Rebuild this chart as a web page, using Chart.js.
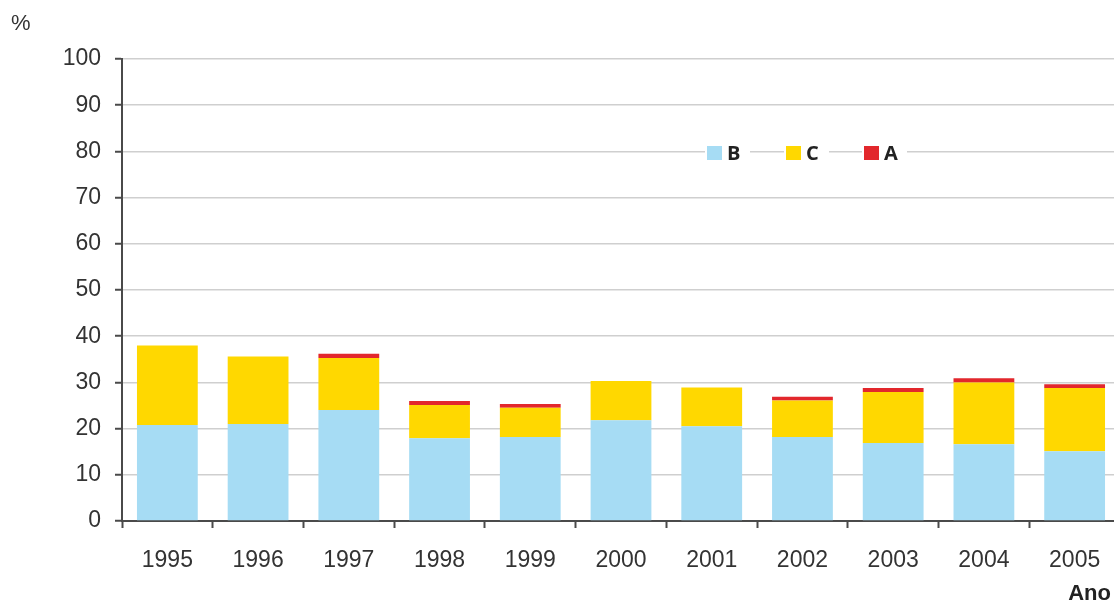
<!DOCTYPE html>
<html>
<head>
<meta charset="utf-8">
<script src="https://cdn.jsdelivr.net/npm/chart.js@4/dist/chart.umd.min.js"></script>
<style>
  html, body { margin: 0; padding: 0; background: #fff; overflow: hidden; }
  #wrap { width: 1122px; height: 603px; position: relative; }
</style>
</head>
<body>
<div id="wrap"><canvas id="myChart"></canvas></div>
<script>
const anos = ["1995", "1996", "1997", "1998", "1999", "2000", "2001", "2002", "2003", "2004", "2005"];
const valoresB = [20.8, 21.0, 24.0, 17.9, 18.2, 21.8, 20.5, 18.2, 16.9, 16.6, 15.1];
const valoresC = [17.2, 14.6, 11.3, 7.2, 6.3, 8.5, 8.4, 7.9, 11.0, 13.4, 13.7];
const valoresA = [0, 0, 0.9, 0.9, 0.8, 0, 0, 0.8, 0.9, 0.9, 0.8];
const yTicks = [0, 10, 20, 30, 40, 50, 60, 70, 80, 90, 100];

const fonte = "'Liberation Sans', Arial, sans-serif";
const corTexto = "#333";
const corEixo = "#4a4a4a";

// legenda desenhada dentro da área do gráfico, por cima das linhas
const legendaInterna = {
    id: 'legendaInterna',
    afterDraw(chart) {
        const c = chart.ctx;
        const xs = [707, 786, 864];
        const y = 153;
        c.save();
        c.font = "bold 20px 'Open Sans', " + fonte;
        c.textBaseline = "middle";
        chart.data.datasets.forEach((ds, i) => {
            c.fillStyle = "#fff";
            c.fillRect(xs[i] - 2, y - 8, 15 + 30, 16);
            c.fillStyle = ds.backgroundColor;
            c.fillRect(xs[i], y - 7, 15, 14);
            c.fillStyle = "#222";
            c.fillText(ds.label, xs[i] + 20, y + 1);
        });
        c.restore();
    }
};

const textos = {
    id: 'textos',
    afterDraw(chart) {
        const c = chart.ctx;
        c.save();
        c.fillStyle = corTexto;
        c.font = "22px " + fonte;
        c.textBaseline = "alphabetic";
        c.fillText("%", 11, 30);
        c.font = "bold 22px " + fonte;
        c.fillStyle = "#222";
        c.textAlign = "right";
        c.fillText("Ano", 1111, 600);
        c.restore();
    }
};

const ctx = document.getElementById('myChart');

new Chart(ctx, {
    type: 'bar',
    data: {
        labels: anos,
        datasets: [
            { label: 'B', data: valoresB, backgroundColor: '#a6dcf4' },
            { label: 'C', data: valoresC, backgroundColor: '#ffd800' },
            { label: 'A', data: valoresA, backgroundColor: '#e2272c' }
        ]
    },
    options: {
        responsive: true,
        maintainAspectRatio: false,
        animation: false,
        layout: { padding: { top: 59, right: 2, left: 0, bottom: 0 } },
        datasets: { bar: { barPercentage: 0.67, categoryPercentage: 1 } },
        plugins: {
            legend: { display: false },
            tooltip: { enabled: false }
        },
        scales: {
            x: {
                stacked: true,
                grid: {
                    offset: true,
                    drawOnChartArea: false,
                    drawTicks: true,
                    tickLength: 7,
                    tickColor: corEixo,
                    tickWidth: 2
                },
                border: { color: corEixo, width: 2 },
                ticks: {
                    color: corTexto,
                    font: { family: fonte, size: 23 },
                    padding: 19,
                    maxRotation: 0
                },
                afterFit: s => { s.height = 82; }
            },
            y: {
                stacked: true,
                min: 0,
                max: 100,
                afterBuildTicks: s => { s.ticks = yTicks.map(v => ({ value: v })); },
                grid: {
                    color: '#cfcfcf',
                    lineWidth: 1.5,
                    drawTicks: true,
                    tickLength: 7,
                    tickColor: corEixo,
                    tickWidth: 2
                },
                border: { color: corEixo, width: 2 },
                ticks: {
                    color: corTexto,
                    font: { family: fonte, size: 23 },
                    padding: 14
                },
                afterFit: s => { s.width = 122; }
            }
        }
    },
    plugins: [legendaInterna, textos]
});
</script>
</body>
</html>
